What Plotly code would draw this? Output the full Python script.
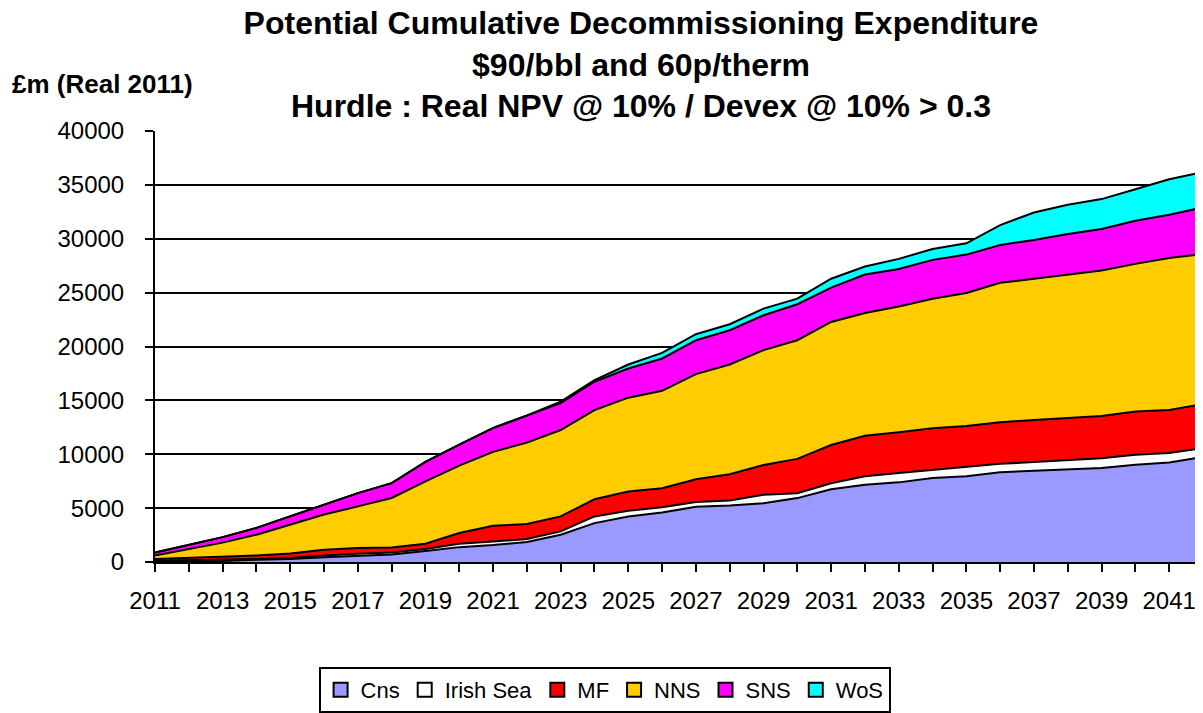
import plotly.graph_objects as go

years = list(range(2011, 2043))

cns = [60, 70, 90, 200, 270, 430, 600, 700, 1020, 1380, 1580, 1850, 2530, 3610, 4230, 4600,
       5120, 5250, 5460, 5930, 6760, 7180, 7390, 7800, 7950, 8320, 8470, 8570, 8720, 9030, 9240, 9740]
irish_sea = [60, 80, 110, 80, 90, 170, 160, 180, 180, 320, 320, 280, 310, 620, 520, 490,
             440, 460, 770, 460, 550, 770, 870, 770, 860, 800, 800, 860, 920, 920, 870, 830]
mf = [160, 220, 280, 320, 420, 540, 540, 460, 500, 990, 1460, 1390, 1390, 1600, 1790, 1760,
      2120, 2440, 2780, 3180, 3550, 3760, 3790, 3850, 3820, 3850, 3920, 3910, 3920, 4010, 4000, 4070]
nns = [310, 830, 1320, 1930, 2680, 3260, 3860, 4600, 5780, 6260, 6860, 7560, 8020, 8270, 8710, 9040,
       9760, 10180, 10650, 11010, 11420, 11400, 11670, 12010, 12330, 12940, 13090, 13310, 13490, 13710, 14110, 13950]
sns = [290, 400, 510, 640, 760, 880, 1230, 1380, 1810, 1950, 2210, 2500, 2500, 2630, 2710, 3000,
       3140, 3180, 3240, 3340, 3180, 3570, 3480, 3610, 3570, 3510, 3610, 3790, 3850, 4000, 4010, 4320]
wos = [0, 0, 0, 0, 0, 0, 0, 0, 0, 0, 20, 20, 130, 150, 370, 520,
       560, 560, 620, 520, 830, 740, 930, 1010, 1050, 1850, 2550, 2710, 2780, 2930, 3290, 3290]

series_names = ["Cns", "Irish Sea", "MF", "NNS", "SNS", "WoS"]
series_values = [cns, irish_sea, mf, nns, sns, wos]
series_colors = ["#9999FF", "#FFFFFF", "#FF0000", "#FFCC00", "#FF00FF", "#00FFFF"]

tick_labels = [str(y) if (y - 2011) % 2 == 0 else "" for y in years]

title_lines = ["Potential Cumulative Decommissioning Expenditure",
               "$90/bbl and 60p/therm",
               "Hurdle : Real NPV @ 10% / Devex @ 10% > 0.3"]
y_unit = "£m (Real 2011)"

font_family = "Liberation Sans, Arial, sans-serif"

# page body adds an 8px offset; figure is sized to fit the window
FIG_W, FIG_H = 1195, 705

fig = go.Figure()
for name, vals, col in zip(series_names, series_values, series_colors):
    fig.add_trace(go.Scatter(
        x=years, y=vals, name=name, mode="lines", stackgroup="one",
        fillcolor=col, line=dict(color="black", width=2),
        showlegend=False, hoverinfo="x+y+name",
    ))

# legend entries as square swatches
for name, col in zip(series_names, series_colors):
    fig.add_trace(go.Scatter(
        x=[None], y=[None], name=name, mode="markers",
        marker=dict(symbol="square", size=14, color=col,
                    line=dict(color="black", width=2)),
        showlegend=True, hoverinfo="skip",
    ))

fig.update_layout(
    width=FIG_W, height=FIG_H,
    margin=dict(l=147, r=0, t=123, b=150),
    paper_bgcolor="white", plot_bgcolor="white",
    font=dict(family=font_family, color="black", size=24),
    title=dict(
        text="<b>" + "<br>".join(title_lines) + "</b>",
        x=(641 - 8) / FIG_W, xanchor="center", xref="container",
        y=1 - 26 / FIG_H, yanchor="middle", yref="container",
        font=dict(family=font_family, size=32, color="black"),
    ),
    showlegend=True,
    legend=dict(
        orientation="h", x=0.429, xanchor="center", y=-0.245, yanchor="top",
        bordercolor="black", borderwidth=2, bgcolor="white",
        font=dict(family=font_family, size=22, color="black"),
        itemwidth=30, traceorder="normal",
    ),
    xaxis=dict(
        range=[2011, 2042], tickvals=years, ticktext=tick_labels,
        ticks="outside", ticklen=8, tickwidth=2, tickcolor="black",
        showline=True, linecolor="black", linewidth=2,
        showgrid=False, zeroline=False,
        tickfont=dict(size=24), ticklabelstandoff=8,
    ),
    yaxis=dict(
        range=[0, 40000], dtick=5000, tickformat="d",
        ticks="outside", ticklen=8, tickwidth=2, tickcolor="black",
        showline=True, linecolor="black", linewidth=2,
        showgrid=True, gridcolor="black", gridwidth=1.5,
        zeroline=False, tickfont=dict(size=24), ticklabelstandoff=16,
    ),
    annotations=[dict(
        text="<b>" + y_unit + "</b>", xref="paper", yref="paper",
        x=(10 - 155) / 1048, y=(563 - 84) / 432, xanchor="left", yanchor="middle",
        showarrow=False, font=dict(family=font_family, size=26, color="black"),
    )],
)

fig.write_html("out.html")
